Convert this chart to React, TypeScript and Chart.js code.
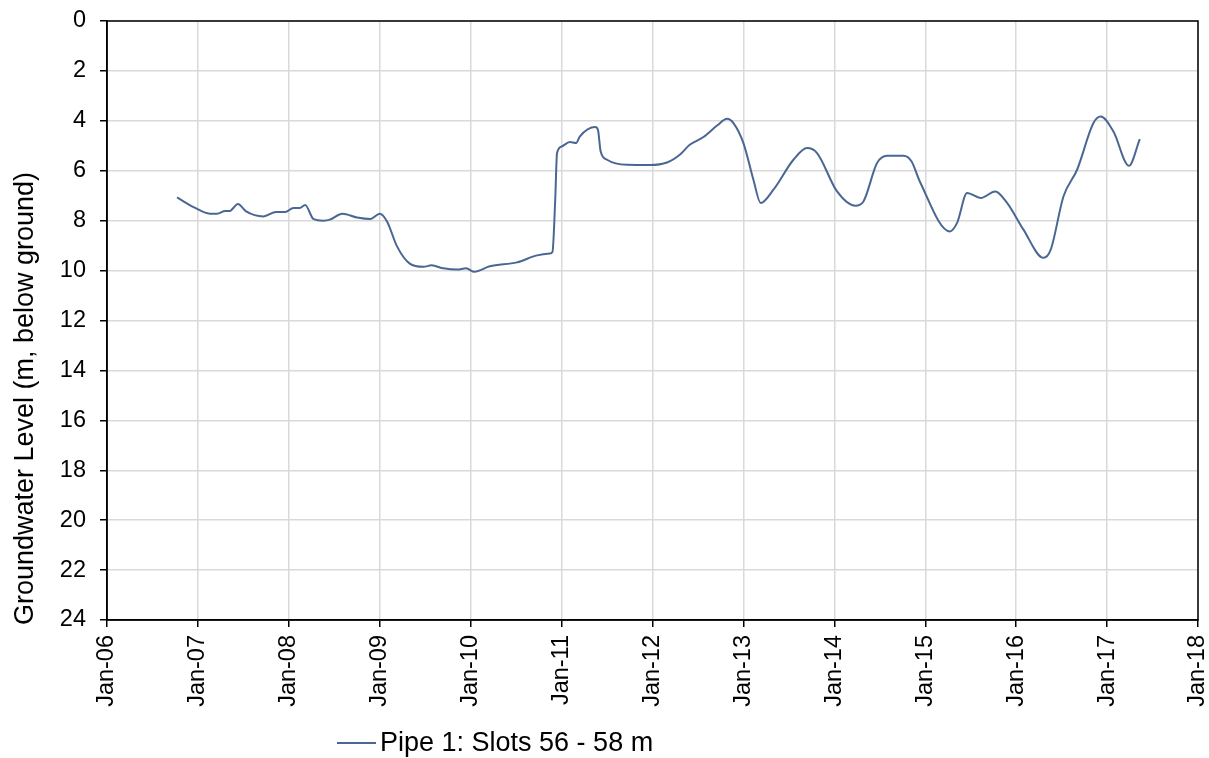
import React, { useEffect, useRef } from "react";
import { Chart, registerables } from "chart.js";

Chart.register(...registerables);

const seriesLabel = "Pipe 1: Slots 56 - 58 m";
const yAxisTitle = "Groundwater Level (m, below ground)";

// decimal years
const years = [
  2006.77, 2006.97, 2007.13, 2007.21, 2007.3, 2007.35, 2007.44, 2007.53, 2007.72, 2007.86,
  2007.96, 2008.05, 2008.12, 2008.18, 2008.27, 2008.38, 2008.45, 2008.59, 2008.75, 2008.9,
  2009.0, 2009.08, 2009.19, 2009.33, 2009.48, 2009.57, 2009.7, 2009.85, 2009.95, 2010.04,
  2010.21, 2010.51, 2010.73, 2010.87, 2010.9, 2010.93, 2010.95, 2011.0, 2011.09, 2011.16,
  2011.2, 2011.37, 2011.4, 2011.43, 2011.5, 2011.72, 2011.97, 2012.16, 2012.3, 2012.41,
  2012.56, 2012.71, 2012.82, 2012.89, 2013.0, 2013.11, 2013.19, 2013.33, 2013.55, 2013.7,
  2013.81, 2014.03, 2014.23, 2014.32, 2014.47, 2014.58, 2014.76, 2014.85, 2014.94, 2015.27,
  2015.35, 2015.46, 2015.61, 2015.77, 2015.9, 2016.08, 2016.3, 2016.38, 2016.52, 2016.67,
  2016.85, 2016.93, 2017.07, 2017.24, 2017.36,
];

// groundwater level, m below ground
const levels = [
  7.07, 7.49, 7.72, 7.72, 7.61, 7.61, 7.33, 7.63, 7.83, 7.65,
  7.65, 7.49, 7.49, 7.37, 7.93, 8.0, 7.96, 7.72, 7.87, 7.93,
  7.72, 8.03, 9.03, 9.72, 9.85, 9.79, 9.91, 9.96, 9.91, 10.05,
  9.83, 9.67, 9.39, 9.32, 9.25, 7.16, 5.29, 5.03, 4.85, 4.89,
  4.63, 4.25, 4.36, 5.23, 5.56, 5.76, 5.77, 5.67, 5.36, 4.96,
  4.65, 4.19, 3.92, 4.09, 4.89, 6.36, 7.29, 6.76, 5.56, 5.09,
  5.29, 6.83, 7.4, 7.23, 5.69, 5.4, 5.4, 5.63, 6.43, 8.43,
  8.09, 6.89, 7.09, 6.83, 7.29, 8.36, 9.49, 9.16, 7.03, 5.96,
  4.09, 3.83, 4.43, 5.8, 4.73,
];

const xMin = 2006;
const xMax = 2018;
const yMin = 0;
const yMax = 24;

const LINE_COLOR = "#4a6793";
const FONT = "'Liberation Sans', Arial, sans-serif";

const framePlugin = {
  id: "frame",
  afterDraw(chart: any) {
    const { ctx, chartArea } = chart;
    ctx.save();
    ctx.strokeStyle = "#000";
    ctx.lineWidth = 1.5;
    ctx.strokeRect(chartArea.left, chartArea.top, chartArea.right - chartArea.left, chartArea.bottom - chartArea.top);
    // y-axis title
    ctx.save();
    ctx.translate(33, 398.5);
    ctx.rotate(-Math.PI / 2);
    ctx.fillStyle = "#000";
    ctx.font = `27px ${FONT}`;
    ctx.textAlign = "center";
    ctx.textBaseline = "alphabetic";
    ctx.fillText(yAxisTitle, 0, 0);
    ctx.restore();
    // legend
    const ly = 743;
    ctx.strokeStyle = LINE_COLOR;
    ctx.lineWidth = 1.8;
    ctx.beginPath();
    ctx.moveTo(337, ly);
    ctx.lineTo(376, ly);
    ctx.stroke();
    ctx.fillStyle = "#000";
    ctx.font = `27px ${FONT}`;
    ctx.textBaseline = "middle";
    ctx.textAlign = "left";
    ctx.fillText(seriesLabel, 380, ly + 1);
    ctx.restore();
  },
};

export default function App() {
  const ref = useRef<HTMLCanvasElement | null>(null);
  useEffect(() => {
    if (!ref.current) return;
    const data = years.map((x, i) => ({ x, y: levels[i] }));
    const chart = new Chart(ref.current, {
      type: "line",
      data: {
        datasets: [
          {
            label: seriesLabel,
            data,
            borderColor: LINE_COLOR,
            borderWidth: 2,
            pointRadius: 0,
            fill: false,
            cubicInterpolationMode: "monotone",
          },
        ],
      },
      options: {
        animation: false,
        responsive: false,
        layout: { padding: { left: 0, top: 21, right: 11, bottom: 0 } },
        plugins: { legend: { display: false }, tooltip: { enabled: false } },
        scales: {
          x: {
            type: "linear",
            min: xMin,
            max: xMax,
            ticks: {
              stepSize: 1,
              autoSkip: false,
              maxRotation: 90,
              minRotation: 90,
              padding: 8,
              color: "#000",
              font: { family: FONT, size: 23.5 },
              callback: (v: any) => "Jan-" + String(Math.round(v) % 100).padStart(2, "0"),
            },
            grid: { color: "#d9d9d9", lineWidth: 1.5, tickLength: 7, tickColor: "#000", tickWidth: 1.5 },
            border: { color: "#000", width: 1.5 },
            afterFit: (s: any) => {
              s.height = 138;
              s.paddingLeft = 0;
              s.paddingRight = 0;
              s.paddingTop = 0;
              s.paddingBottom = 0;
            },
          },
          y: {
            type: "linear",
            reverse: true,
            min: yMin,
            max: yMax,
            ticks: {
              stepSize: 2,
              padding: 14,
              color: "#000",
              font: { family: FONT, size: 23.5 },
            },
            grid: { color: "#d9d9d9", lineWidth: 1.5, tickLength: 7, tickColor: "#000", tickWidth: 1.5 },
            border: { color: "#000", width: 1.5 },
            afterFit: (s: any) => {
              s.width = 107;
              s.paddingLeft = 0;
              s.paddingRight = 0;
              s.paddingTop = 0;
              s.paddingBottom = 0;
            },
          },
        },
      },
      plugins: [framePlugin],
    });
    return () => chart.destroy();
  }, []);
  return (
    <div style={{ position: "fixed", left: 0, top: 0, width: 1209, height: 758, background: "#fff" }}>
      <canvas ref={ref} width={1209} height={758} style={{ display: "block" }} />
    </div>
  );
}
